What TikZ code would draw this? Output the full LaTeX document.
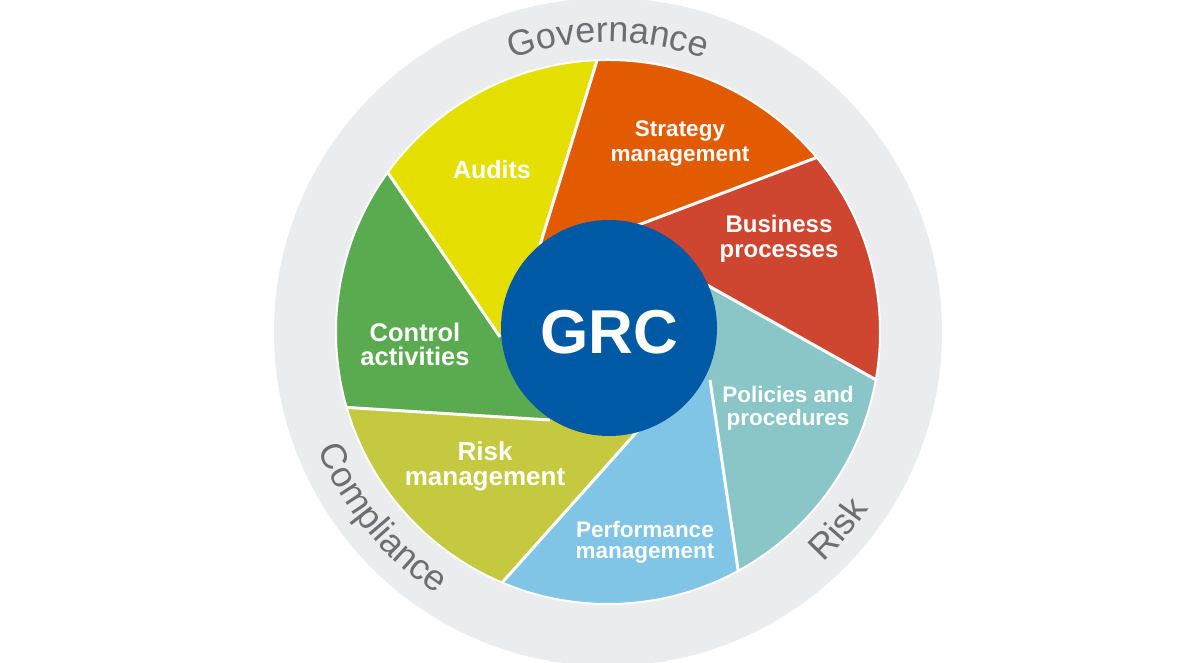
\documentclass[tikz,border=0pt]{standalone}
\usepackage{fontspec}
\setmainfont{Liberation Sans}
\usetikzlibrary{calc,decorations.text}
\definecolor{ringgrey}{RGB}{235,236,238}
\definecolor{txtgrey}{RGB}{109,110,113}
\definecolor{caudits}{RGB}{229,223,0}
\definecolor{cstrategy}{RGB}{227,91,0}
\definecolor{cbusiness}{RGB}{207,70,48}
\definecolor{cpolicies}{RGB}{138,198,200}
\definecolor{cperformance}{RGB}{128,197,229}
\definecolor{criskm}{RGB}{197,201,64}
\definecolor{ccontrol}{RGB}{90,171,79}
\definecolor{grcblue}{RGB}{0,89,165}
\tikzset{
  sepline/.style={white, line width=3pt},
  lbl/.style={text=white, align=center, inner sep=0pt, font=\bfseries},
  ringtext/.style={decorate, decoration={text along path, text align=center}}
}
\newcommand{\ringfont}{\color{txtgrey}\fontsize{36}{40}\selectfont}
\begin{document}
\begin{tikzpicture}[x=1pt,y=1pt]
\useasboundingbox (0,0) rectangle (1200,663);
\clip (0,0) rectangle (1200,663);
\coordinate (P) at (608,331);
\coordinate (G) at (609,335);
% grey ring
\fill[ringgrey] (P) circle (334);
% outer points of the blades
\coordinate (A1) at ($(P)+(92.3:272)$);
\coordinate (A2) at ($(P)+(39.9:272)$);
\coordinate (A3) at ($(P)+(-10.1:272)$);
\coordinate (A4) at ($(P)+(-61.4:272)$);
\coordinate (A5) at ($(P)+(-112.9:272)$);
\coordinate (A6) at ($(P)+(196.1:272)$);
\coordinate (A7) at ($(P)+(144.1:272)$);
% inner points of the blades
\coordinate (I1) at (540,418);
\coordinate (I2) at (633,436);
\coordinate (I3) at (707,378);
\coordinate (I4) at (710,283);
\coordinate (I5) at (643,238);
\coordinate (I6) at (550,243);
\coordinate (I7) at (500,326);
% blades
\fill[caudits] (A7) arc[start angle=144.1, end angle=92.3, radius=272] -- (I1) -- (G) -- (I7) -- cycle;
\fill[cstrategy] (A1) arc[start angle=92.3, end angle=39.9, radius=272] -- (I2) -- (G) -- (I1) -- cycle;
\fill[cbusiness] (A2) arc[start angle=39.9, end angle=-10.1, radius=272] -- (I3) -- (G) -- (I2) -- cycle;
\fill[cpolicies] (A3) arc[start angle=-10.1, end angle=-61.4, radius=272] -- (I4) -- (G) -- (I3) -- cycle;
\fill[cperformance] (A4) arc[start angle=-61.4, end angle=-112.9, radius=272] -- (I5) -- (G) -- (I4) -- cycle;
\fill[criskm] (A5) arc[start angle=-112.9, end angle=-163.9, radius=272] -- (I6) -- (G) -- (I5) -- cycle;
\fill[ccontrol] (A6) arc[start angle=196.1, end angle=144.1, radius=272] -- (I7) -- (G) -- (I6) -- cycle;
% white separators
\foreach \k in {1,...,7} { \draw[sepline] (A\k) -- (I\k); }
\draw[white, line width=2pt] (P) circle (272);
% centre
\node[circle, fill=grcblue, minimum size=216pt, inner sep=0pt, text=white,
      font=\fontsize{62}{70}\selectfont\bfseries, text height=52pt] (grc) at (G) {GRC};
% labels
\node[lbl, font=\fontsize{25}{25}\selectfont\bfseries] (audits) at (492,493) {Audits};
\node[lbl, font=\fontsize{22.5}{25}\selectfont\bfseries] (strategy) at (680,519) {Strategy\\management};
\node[lbl, font=\fontsize{24}{25}\selectfont\bfseries] (business) at (779,424) {Business\\processes};
\node[lbl, font=\fontsize{25.5}{24}\selectfont\bfseries] (control) at (415,319) {Control\\activities};
\node[lbl, font=\fontsize{22.5}{23}\selectfont\bfseries] (policies) at (788,255) {Policies and\\procedures};
\node[lbl, font=\fontsize{26}{25}\selectfont\bfseries] (riskm) at (485,197) {Risk\\management};
\node[lbl, font=\fontsize{22.5}{21}\selectfont\bfseries] (performance) at (645,121) {Performance\\management};
% ring texts
\path[ringtext, decoration={text={|\ringfont|Governance}}]
  ($(P)+(135:290)$) arc[start angle=135, end angle=45, radius=290];
\path[ringtext, decoration={text={|\ringfont|Compliance}}]
  ($(P)+(179.5:313)$) arc[start angle=179.5, end angle=259.5, radius=313];
\path[ringtext, decoration={text={|\ringfont|Risk}}]
  ($(P)+(-80.5:315)$) arc[start angle=-80.5, end angle=-0.5, radius=315];
\end{tikzpicture}
\end{document}
